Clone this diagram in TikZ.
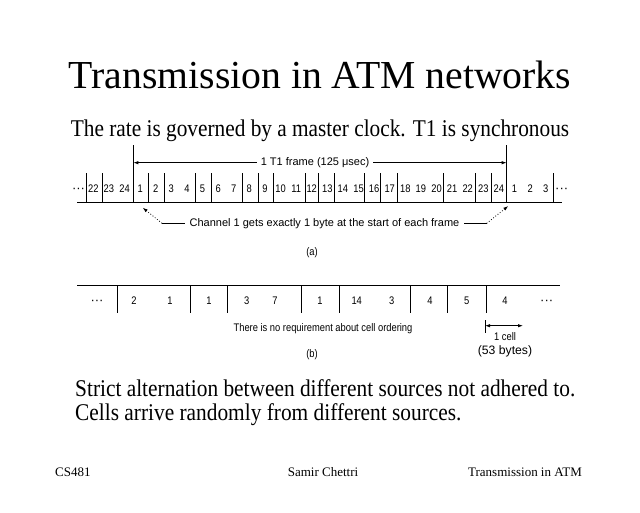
\documentclass[tikz,border=0pt]{standalone}
\usepackage{fontspec}
\setmainfont{Liberation Serif}
\newfontfamily\subfont[FakeStretch=0.888]{Liberation Serif}
\newfontfamily\bodyfont[FakeStretch=0.89]{Liberation Serif}
\newfontfamily\diagsf[FakeStretch=0.85]{Liberation Sans}
\newfontfamily\widesf{Liberation Sans}
\usetikzlibrary{arrows.meta}
\begin{document}
\begin{tikzpicture}[x=1pt,y=-1pt,
  lbl/.style={font=\diagsf\fontsize{11}{13}\selectfont, inner sep=0pt},
  wlbl/.style={font=\widesf\fontsize{11}{13}\selectfont, inner sep=0pt},
  num/.style={font=\diagsf\fontsize{11}{13}\selectfont, inner sep=0pt, anchor=base},
  dots/.style={font=\widesf\fontsize{13}{15}\selectfont, inner sep=0pt, anchor=base},
  rule/.style={line width=0.8pt},
  tip/.style={-{Latex[length=5pt,width=3.4pt]}},
  bothtip/.style={{Latex[length=5pt,width=3.4pt]}-{Latex[length=5pt,width=3.4pt]}},
  foot/.style={font=\fontsize{13}{15}\selectfont, inner sep=0pt},
  body/.style={font=\bodyfont\fontsize{24}{28}\selectfont, inner sep=0pt}]
\useasboundingbox[fill=white] (0,0) rectangle (640,512);

% titles
\node[anchor=base, font=\fontsize{39.7}{44}\selectfont, inner sep=0pt] (title) at (320,88.3) {Transmission in ATM networks};
\node[anchor=base, font=\subfont\fontsize{24}{28}\selectfont, inner sep=0pt] (sub) at (320,136) {The rate is governed by a master clock. T1 is synchronous};

% ---------- part (a) ----------
\draw[rule] (77,202) -- (562,202);
\foreach \sx in {86,102,148.5,164,195,211,242.5,258,273.5,305,318,334,364,380,397,443.5,475,491,553.5}
  \draw[rule] (\sx,173) -- (\sx,202);
\draw[rule] (133.3,145) -- (133.3,202);
\draw[rule] (506.7,145) -- (506.7,202);
\node[dots] (adotsl) at (78.5,192) {···};
\node[dots] (adotsr) at (561.7,192) {···};
\foreach \lab [count=\i from 0] in {22,23,24,1,2,3,4,5,6,7,8,9,10,11,12,13,14,15,16,17,18,19,20,21,22,23,24,1,2,3}
  \node[num] (na\i) at ({93.3+15.6*\i},192) {\lab};

\coordinate (fl) at (133.3,162.7);
\coordinate (fr) at (506.7,162.7);
\node[wlbl, inner xsep=4pt] (frame) at (315,162.7) {1 T1 frame (125 μsec)};
\draw[rule,tip] (frame.west) -- (fl);
\draw[rule,tip] (frame.east) -- (fr);

\node[wlbl, inner xsep=4.5pt] (chan) at (324.5,223.3) {Channel 1 gets exactly 1 byte at the start of each frame};
\coordinate (cl) at (162,223.3);
\coordinate (cr) at (486.7,223.3);
\coordinate (tl) at (142.7,207.7);
\coordinate (tr) at (508.3,206);
\draw[rule] (chan.west) -- (cl);
\draw[rule,dotted,tip] (cl) -- (tl);
\draw[rule] (chan.east) -- (cr);
\draw[rule,dotted,tip] (cr) -- (tr);

\node[lbl] (la) at (312,253) {(a)};

% ---------- part (b) ----------
\draw[rule] (77,285.5) -- (560,285.5);
\foreach \sx in {117.7,190,227.3,301,339,410,447.7,486}
  \draw[rule] (\sx,285.5) -- (\sx,313);
\node[dots] (bdotsl) at (97,304) {···};
\node[dots] (bdotsr) at (546.7,304) {···};
\foreach \px/\lab [count=\j] in {134/2,170/1,209/1,246.7/3,275/7,320/1,356.7/14,391.7/3,430/4,466.7/5,505/4}
  \node[num] (nb\j) at (\px,304) {\lab};

\node[lbl] (noreq) at (323,329) {There is no requirement about cell ordering};

\coordinate (ctop) at (485,320);
\coordinate (cbot) at (485,333);
\coordinate (cleft) at (485,325.7);
\coordinate (cright) at (523,325.7);
\draw[rule] (ctop) -- (cbot);
\draw[rule,bothtip] (cleft) -- (cright);
\node[lbl] (onecell) at (505,337) {1 cell};
\node[font=\widesf\fontsize{12.2}{14}\selectfont, inner sep=0pt] (bytes) at (505,351) {(53 bytes)};

\node[lbl] (lb) at (312,355) {(b)};

% ---------- body text ----------
\node[body, anchor=base west] (l1) at (75,396) {Strict alternation between different sources not adhered to.};
\node[body, anchor=base west] (l2) at (75,420) {Cells arrive randomly from different sources.};

% ---------- footer ----------
\node[foot, anchor=base west] (f1) at (55,476) {CS481};
\node[foot, anchor=base] (f2) at (323,476) {Samir Chettri};
\node[foot, anchor=base east] (f3) at (582,476) {Transmission in ATM};
\end{tikzpicture}
\end{document}
